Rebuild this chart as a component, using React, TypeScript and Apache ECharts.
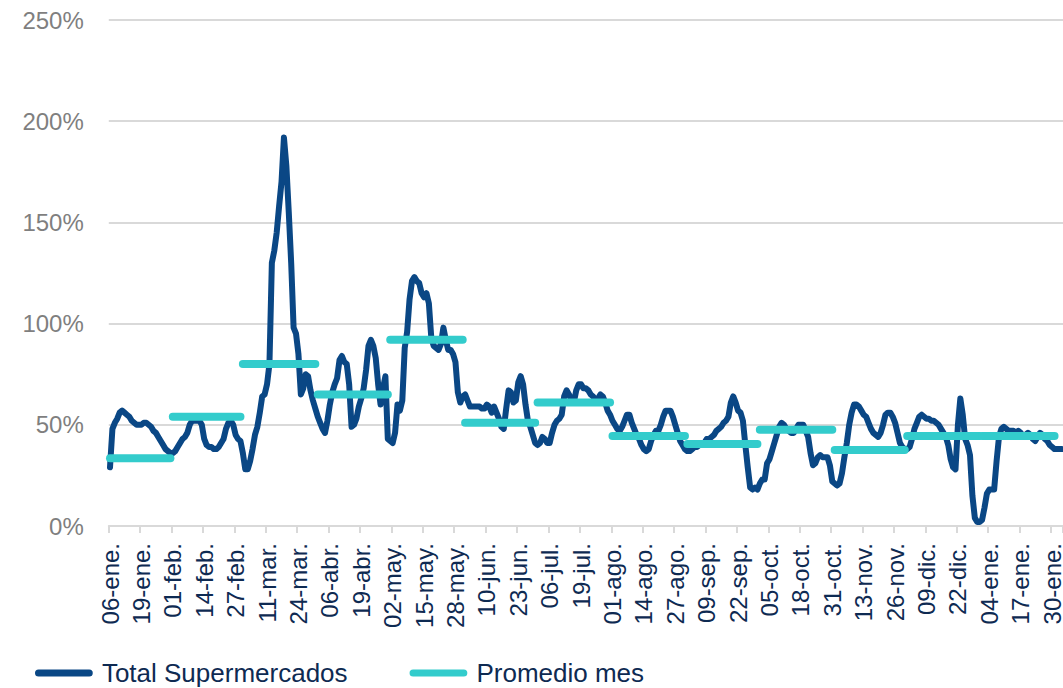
import React, { useEffect, useRef } from "react";
import * as echarts from "echarts";

// ---- data ----
const START_YEAR = 2020;
const START_MONTH = 0; // January
const START_DAY = 6;
const DAY_COUNT = 395; // 06-ene-2020 .. 03-feb-2021
const monthAbbr = ["ene", "feb", "mar", "abr", "may", "jun", "jul", "ago", "sep", "oct", "nov", "dic"];

// Total Supermercados, daily, % (06-ene-2020 onward)
const totalSupermercados = [
  29, 48, 51, 53, 56, 57, 56, 55, 54, 52,
  51, 50, 50, 50, 51, 51, 50, 49, 47, 46,
  44, 42, 40, 38, 37, 36, 36, 37, 39, 41,
  43, 44, 46, 50, 52, 52, 52, 52, 50, 43,
  40, 39, 39, 38, 38, 39, 41, 43, 48, 51,
  52, 50, 45, 43, 42, 36, 28, 28, 32, 38,
  45, 49, 56, 64, 65, 70, 80, 130, 136, 145,
  158, 170, 192, 178, 155, 130, 98, 95, 85, 65,
  68, 75, 74, 67, 62, 58, 54, 51, 48, 46,
  52, 60, 66, 70, 73, 82, 84, 81, 80, 70,
  49, 50, 53, 59, 63, 68, 77, 89, 92, 89,
  83, 70, 60, 68, 74, 43, 42, 41, 46, 60,
  57, 62, 88, 96, 112, 121, 123, 121, 120, 115,
  113, 115, 110, 93, 89, 88, 87, 90, 98, 92,
  87, 87, 85, 81, 66, 61, 64, 65, 62, 59,
  59, 59, 59, 59, 58, 58, 60, 59, 56, 59,
  56, 53, 49, 48, 58, 67, 66, 61, 62, 71,
  74, 70, 60, 52, 49, 45, 41, 40, 41, 44,
  43, 41, 41, 46, 50, 52, 53, 55, 64, 67,
  65, 62, 61, 67, 70, 70, 68, 68, 67, 65,
  64, 61, 63, 65, 64, 61, 57, 55, 52, 50,
  48, 47, 49, 52, 55, 55, 51, 48, 45, 43,
  40, 38, 37, 38, 42, 45, 47, 47, 50, 54,
  57, 57, 57, 54, 50, 46, 42, 40, 38, 37,
  37, 38, 39, 39, 40, 40, 41, 43, 43, 44,
  45, 47, 48, 49, 51, 52, 54, 61, 64, 61,
  57, 56, 52, 40, 29, 19, 18, 19, 18, 21,
  23, 23, 31, 33, 37, 41, 45, 49, 51, 50,
  48, 47, 46, 46, 48, 50, 50, 50, 47, 44,
  36, 30, 31, 34, 35, 34, 34, 34, 30, 22,
  21, 20, 21, 26, 34, 41, 50, 56, 60, 60,
  59, 57, 55, 54, 51, 48, 46, 45, 44, 46,
  50, 55, 56, 56, 54, 51, 46, 41, 39, 38,
  38, 39, 43, 48, 51, 54, 55, 54, 53, 53,
  52, 52, 51, 50, 48, 46, 44, 40, 33, 29,
  28, 50, 63, 55, 43, 40, 35, 15, 4, 2,
  2, 3, 9, 16, 18, 18, 18, 32, 44, 48,
  49, 48, 47, 47, 47, 46, 47, 46, 44, 45,
  46, 45, 43, 42, 44, 46, 45, 43, 42, 40,
  39, 38, 38, 38, 38,
];

// Promedio mes, % (ene-2020 .. ene-2021)
const promedioMes = [33.5, 54, 80, 65, 92, 51, 61, 44.5, 40.5, 47.5, 37.5, 44.5, 44.5];

const yMin = 0;
const yMax = 250;
const yStep = 50;
const labelEvery = 13;

// ---- styles ----
const DARK = "#0a4785";
const CYAN = "#33cccc";
const GRID = "#d9d9d9";
const FONT = "'Liberation Sans', Arial, sans-serif";

function buildDays() {
  const labels: string[] = [];
  const monthIndex: number[] = [];
  for (let i = 0; i < DAY_COUNT; i++) {
    const dt = new Date(Date.UTC(START_YEAR, START_MONTH, START_DAY + i));
    const d = dt.getUTCDate();
    const m = dt.getUTCMonth();
    const y = dt.getUTCFullYear();
    labels.push(`${d < 10 ? "0" + d : d}-${monthAbbr[m]}.`);
    monthIndex.push((y - START_YEAR) * 12 + m - START_MONTH);
  }
  return { labels, monthIndex };
}

export default function App() {
  const ref = useRef<HTMLDivElement>(null);

  useEffect(() => {
    if (!ref.current) return;
    const chart = echarts.init(ref.current, undefined, { renderer: "svg" });
    const { labels, monthIndex } = buildDays();

    const avgSeries = promedioMes.map((v, k) => ({
      name: "Promedio mes",
      type: "line",
      symbol: "none",
      silent: true,
      connectNulls: false,
      z: 3,
      itemStyle: { color: CYAN },
      lineStyle: { color: CYAN, width: 8, cap: "round", join: "round" },
      emphasis: { disabled: true },
      data: monthIndex.map((mi) => (mi === k ? v : null)),
    }));

    const legendIcon = "path://M4,0H62A4,4,0,0,1,62,8H4A4,4,0,0,1,4,0Z";

    chart.setOption({
      animation: false,
      backgroundColor: "#ffffff",
      textStyle: { fontFamily: FONT },
      grid: {
        left: 108.8,
        top: 20,
        width: 954.2,
        height: 506,
        containLabel: false,
        outerBoundsMode: "none",
      },
      legend: {
        left: 30,
        top: 655,
        itemWidth: 66,
        itemHeight: 7,
        itemGap: 62,
        itemStyle: { borderWidth: 0 },
        textStyle: { fontSize: 26, color: "#0e2a52", fontFamily: FONT },
        selectedMode: false,
        data: [
          { name: "Total Supermercados", icon: legendIcon },
          { name: "Promedio mes", icon: legendIcon },
        ],
      },
      xAxis: {
        type: "category",
        data: labels,
        boundaryGap: true,
        axisLine: { show: true, lineStyle: { color: GRID, width: 2 } },
        axisTick: {
          show: true,
          interval: labelEvery - 1,
          length: 7,
          alignWithLabel: false,
          lineStyle: { color: GRID, width: 2 },
        },
        axisLabel: {
          interval: labelEvery - 1,
          rotate: 90,
          margin: 17,
          fontSize: 24,
          color: "#0e2a52",
          fontFamily: FONT,
        },
        splitLine: { show: false },
      },
      yAxis: {
        type: "value",
        min: yMin,
        max: yMax,
        interval: yStep,
        axisLine: { show: false },
        axisTick: { show: false },
        axisLabel: {
          formatter: "{value}%",
          fontSize: 24,
          color: "#7f7f7f",
          margin: 25,
          fontFamily: FONT,
        },
        splitLine: { show: true, lineStyle: { color: GRID, width: 2 } },
      },
      series: [
        {
          name: "Total Supermercados",
          type: "line",
          symbol: "none",
          silent: true,
          z: 2,
          itemStyle: { color: DARK },
          lineStyle: { color: DARK, width: 6, cap: "round", join: "round" },
          emphasis: { disabled: true },
          data: totalSupermercados,
        },
        ...avgSeries,
      ],
    });

    return () => chart.dispose();
  }, []);

  return (
    <div
      ref={ref}
      style={{ position: "fixed", left: 0, top: 0, width: 1063, height: 688, background: "#fff" }}
    />
  );
}
